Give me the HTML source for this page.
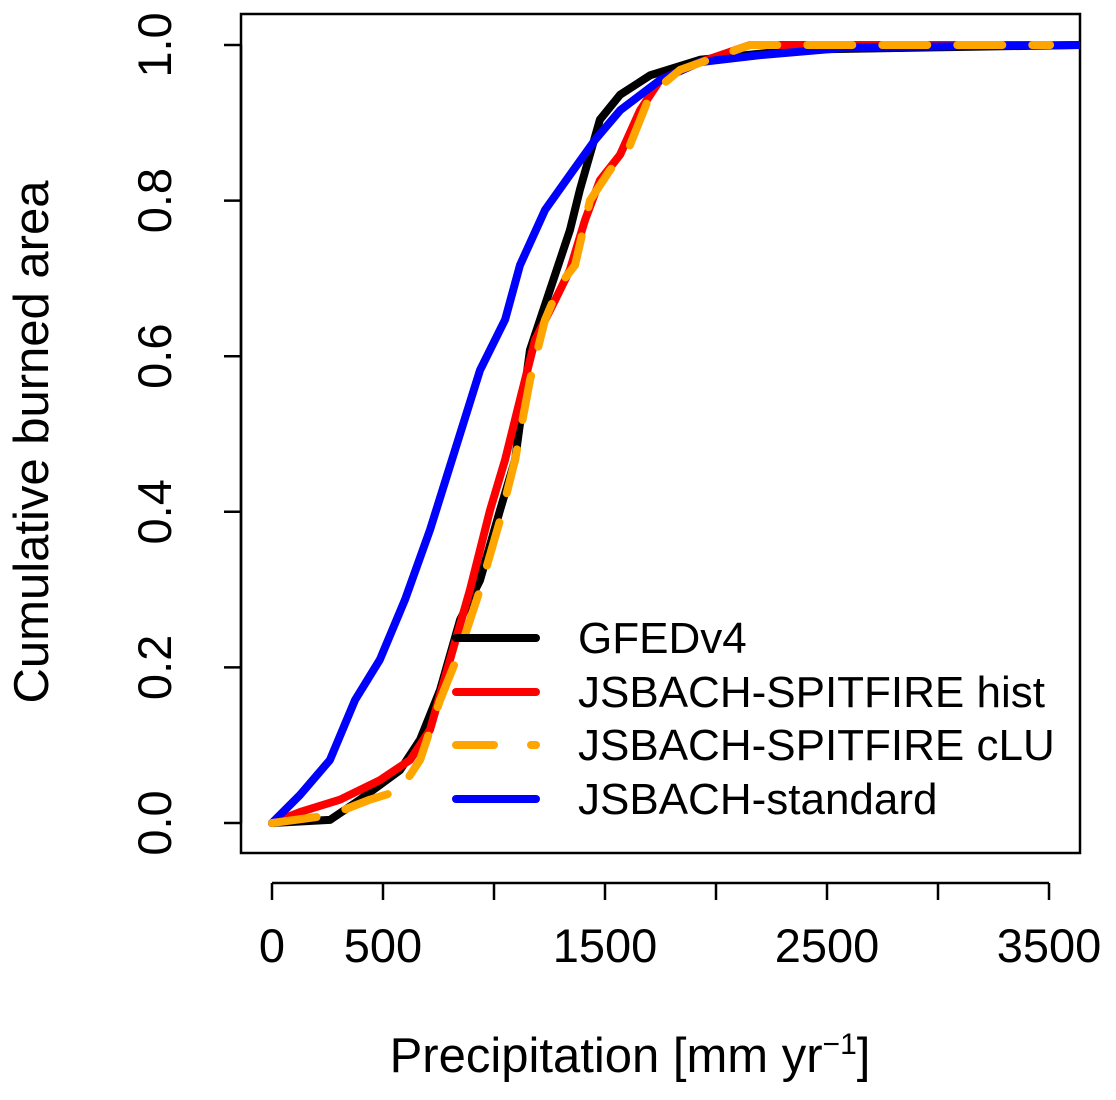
<!DOCTYPE html>
<html><head><meta charset="utf-8"><style>
body{margin:0;background:#fff}
svg text{font-family:"Liberation Sans",Arial,sans-serif;fill:#000}
</style></head><body>
<svg id="chart" width="1116" height="1095" viewBox="0 0 1116 1095">
<rect x="241" y="14" width="839" height="839" fill="none" stroke="#000" stroke-width="2.5"/>
<g id="xaxis"></g>
<g id="yaxis"></g>
<g id="clip-series"></g>
<text x="630" y="1072" font-size="49" text-anchor="middle">Precipitation [mm yr<tspan font-size="30" dy="-18">−1</tspan><tspan dy="18">]</tspan></text>
<text transform="translate(48,442) rotate(-90)" font-size="49" text-anchor="middle">Cumulative burned area</text>
<g id="legend"></g>
</svg>
<script>
const xTicks=[0,500,1000,1500,2000,2500,3000,3500];
const xTickLabels=["0","500","","1500","","2500","","3500"];
const yTicks=[0,0.2,0.4,0.6,0.8,1.0];
const yTickLabels=["0.0","0.2","0.4","0.6","0.8","1.0"];
const seriesNames=["GFEDv4","JSBACH-SPITFIRE hist","JSBACH-SPITFIRE cLU","JSBACH-standard"];
const gfedX=[0,261,396,577,667,757,847,937,1027,1095,1162,1252,1342,1387,1477,1568,1703,1928,2378,3640];
const gfedY=[0,0.004,0.03,0.068,0.107,0.171,0.261,0.312,0.402,0.467,0.608,0.685,0.762,0.814,0.904,0.936,0.961,0.981,0.994,1];
const histX=[0,126,306,486,622,712,802,892,982,1050,1117,1185,1275,1342,1410,1477,1568,1658,1748,1928,2153,3505];
const histY=[0,0.014,0.03,0.055,0.081,0.12,0.21,0.3,0.402,0.467,0.544,0.621,0.672,0.711,0.775,0.826,0.859,0.916,0.955,0.978,1.0,1];
const cluX=[0,261,441,577,667,757,847,937,1027,1095,1162,1230,1297,1365,1432,1522,1612,1703,1838,2153,3505];
const cluY=[0,0.01,0.03,0.042,0.081,0.158,0.222,0.3,0.389,0.467,0.569,0.647,0.692,0.717,0.8,0.839,0.871,0.936,0.968,1.0,1];
const stdX=[0,126,261,374,486,599,712,824,937,1050,1117,1230,1342,1455,1568,1748,1928,2198,2604,3640];
const stdY=[0,0.036,0.081,0.158,0.21,0.287,0.377,0.479,0.582,0.647,0.717,0.788,0.833,0.878,0.916,0.955,0.978,0.987,0.997,1];

const NS="http://www.w3.org/2000/svg";
const xs=v=>272+v*0.222;
const ys=v=>823-v*778;
function mk(tag,attrs,parent){const e=document.createElementNS(NS,tag);for(const k in attrs)e.setAttribute(k,attrs[k]);parent.appendChild(e);return e;}
const xg=document.getElementById('xaxis');
mk('line',{x1:xs(0),x2:xs(3500),y1:883,y2:883,stroke:'#000','stroke-width':2.5},xg);
xTicks.forEach((t,i)=>{
  const l=mk('line',{x1:xs(t),x2:xs(t),y1:883,y2:900,stroke:'#000','stroke-width':2.5},xg);
  
  
  if(xTickLabels[i]){const tx=mk('text',{x:xs(t),y:962,'font-size':47,'text-anchor':'middle'},xg);tx.textContent=xTickLabels[i];
  
  }
});
const yg=document.getElementById('yaxis');
mk('line',{x1:241,x2:241,y1:ys(0),y2:ys(1),stroke:'#000','stroke-width':2.5},yg);
yTicks.forEach((t,i)=>{
  const l=mk('line',{x1:224,x2:241,y1:ys(t),y2:ys(t),stroke:'#000','stroke-width':2.5},yg);
  
  
  const tx=mk('text',{transform:`translate(171,${ys(t)}) rotate(-90)`,'font-size':47,'text-anchor':'middle'},yg);tx.textContent=yTickLabels[i];
  
  
});
const sg=document.getElementById('clip-series');
const cp=mk('clipPath',{id:'pc'},sg);
mk('rect',{x:241,y:14,width:839,height:839},cp);
sg.setAttribute('clip-path','url(#pc)');
const series=[[gfedX,gfedY,'#000',null,'gfedv4-line'],[histX,histY,'#f00',null,'spitfire-hist-line'],[cluX,cluY,'#ffa500','45 30','spitfire-clu-line'],[stdX,stdY,'#00f',null,'jsbach-standard-line']];
const order=[0,1,3,2];
order.forEach(i=>{const [X,Y,c,d,n]=series[i];
  const p=mk('polyline',{points:X.map((x,j)=>xs(x)+','+ys(Y[j])).join(' '),fill:'none',stroke:c,'stroke-width':8,'stroke-linecap':'round','stroke-linejoin':'round'},sg);
  if(d)p.setAttribute('stroke-dasharray',d);
  
  
});
const lg=document.getElementById('legend');
const ly=[638,692,745,799];
series.forEach((s,i)=>{
  const l=mk('line',{x1:456,x2:536,y1:ly[i],y2:ly[i],stroke:s[2],'stroke-width':8,'stroke-linecap':'round'},lg);
  if(s[3])l.setAttribute('stroke-dasharray','38 37');
  
  
  const t=mk('text',{x:578,y:ly[i]+15,'font-size':44},lg);t.textContent=seriesNames[i];
  
  
});
</script>
</body></html>
